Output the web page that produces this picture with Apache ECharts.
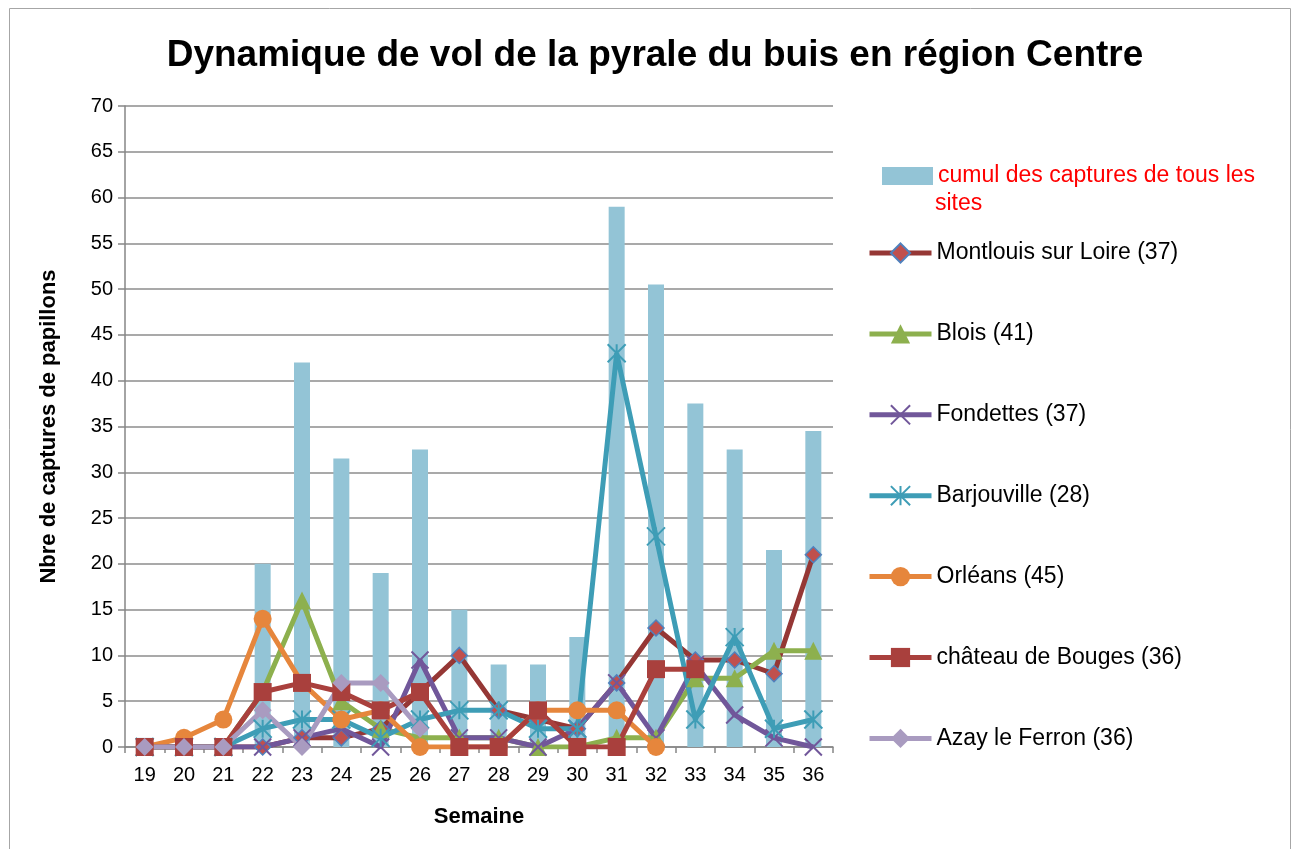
<!DOCTYPE html>
<html><head><meta charset="utf-8">
<script src="https://cdn.jsdelivr.net/npm/echarts@6/dist/echarts.min.js"></script>
<style>html,body{margin:0;padding:0;background:#fff}#c{width:1296px;height:849px}</style>
</head><body><div id="c"></div>
<script>
const weeks = ['19','20','21','22','23','24','25','26','27','28','29','30','31','32','33','34','35','36'];
const cumul = [1, 0, 0, 20, 42, 31.5, 19, 32.5, 15, 9, 9, 12, 59, 50.5, 37.5, 32.5, 21.5, 34.5];
const montlouis = [0, 0, 0, 0, 1, 1, 2, 6, 10, 4, 3, 2, 7, 13, 9.5, 9.5, 8, 21];
const blois = [0, 0, 0, 6, 16, 5, 2, 1, 1, 1, 0, 0, 1, 1, 7.5, 7.5, 10.5, 10.5];
const fondettes = [0, 0, 0, 0, 1, 2, 0, 9.5, 1, 1, 0, 2, 7, 1, 9, 3.5, 1, 0];
const barjouville = [0, 0, 0, 2, 3, 3, 1, 3, 4, 4, 2, 2, 43, 23, 3, 12, 2, 3];
const orleans = [0, 1, 3, 14, 7, 3, 4, 0, 0, 0, 4, 4, 4, 0, null, null, null, null];
const bouges = [0, 0, 0, 6, 7, 6, 4, 6, 0, 0, 4, 0, 0, 8.5, 8.5, null, null, null];
const azay = [0, 0, 0, 4, 0, 7, 7, 2, null, null, null, null, null, null, null, null, null, null];
const yTicks = [0, 5, 10, 15, 20, 25, 30, 35, 40, 45, 50, 55, 60, 65, 70];

const FONT = 'Liberation Sans';
const chart = echarts.init(document.getElementById('c'));

function lineSeries(name, data, lineColor, symbol, size, fill, border, bw) {
  return {
    name, type: 'line', data, symbol, symbolSize: size,
    connectNulls: false,
    lineStyle: { color: lineColor, width: 5 },
    itemStyle: { color: fill, borderColor: border, borderWidth: bw },
    emphasis: { disabled: true },
    z: 3
  };
}
const X_PATH = 'path://M0,0L10,10M10,0L0,10';
const STAR_PATH = 'path://M5,0L5,10M0,0L10,10M10,0L0,10';

chart.setOption({
  animation: false,
  textStyle: { fontFamily: FONT },
  title: {
    text: 'Dynamique de vol de la pyrale du buis en région Centre',
    left: 650, top: 32, textAlign: 'center',
    textStyle: { fontSize: 37, fontWeight: 'bold', color: '#000', fontFamily: FONT }
  },
  graphic: [
    { type: 'rect', shape: { x: 9.5, y: 8.5, width: 1281, height: 845 },
      style: { fill: 'none', stroke: '#A6A6A6', lineWidth: 1 }, silent: true, z: -10 },
    { type: 'text', left: 935, top: 192,
      style: { text: 'sites', fill: '#FF0000', fontSize: 23, fontFamily: FONT } }
  ],
  legend: [
    { data: [{ name: 'cumul des captures de tous les sites', textStyle: { color: '#FF0000' } }],
      orient: 'vertical', left: 877, top: 159, icon: 'rect',
      itemWidth: 51, itemHeight: 18, itemGap: 10,
      formatter: () => 'cumul des captures de tous les',
      textStyle: { fontSize: 23, lineHeight: 24, fontFamily: FONT }, selectedMode: false },
    { data: ['Montlouis sur Loire (37)', 'Blois (41)', 'Fondettes (37)', 'Barjouville (28)', 'Orléans (45)', 'château de Bouges (36)', 'Azay le Ferron (36)'],
      orient: 'vertical', left: 862, top: 236,
      itemWidth: 62, itemHeight: 24, itemGap: 56.9,
      lineStyle: { width: 5 },
      textStyle: { fontSize: 23, lineHeight: 24, color: '#000', fontFamily: FONT }, selectedMode: false }
  ],
  grid: { left: 125, right: 463, top: 106, bottom: 102 },
  xAxis: {
    type: 'category', data: weeks, boundaryGap: true,
    name: 'Semaine', nameLocation: 'middle', nameGap: 59,
    nameTextStyle: { fontSize: 22, fontWeight: 'bold', color: '#000', fontFamily: FONT },
    axisLine: { lineStyle: { color: '#868686', width: 1.5 } },
    axisTick: { show: true, alignWithLabel: false, interval: 0, length: 6, lineStyle: { color: '#868686', width: 1.5 } },
    axisLabel: { fontSize: 20, color: '#000', margin: 18, interval: 0, fontFamily: FONT }
  },
  yAxis: {
    type: 'value', min: yTicks[0], max: yTicks[yTicks.length - 1], interval: 5,
    name: 'Nbre de captures de papillons', nameLocation: 'middle', nameGap: 65, nameRotate: 90,
    nameTextStyle: { fontSize: 22, fontWeight: 'bold', color: '#000', fontFamily: FONT },
    axisLine: { show: true, lineStyle: { color: '#868686', width: 1.5 } },
    axisTick: { show: true, length: 7, lineStyle: { color: '#868686', width: 1.5 } },
    axisLabel: { fontSize: 20, color: '#000', margin: 12, fontFamily: FONT },
    splitLine: { show: true, lineStyle: { color: '#8C8C8C', width: 1.5 } }
  },
  series: [
    { name: 'cumul des captures de tous les sites', type: 'bar', data: cumul, barWidth: 16,
      itemStyle: { color: '#93C4D6' }, emphasis: { disabled: true }, z: 2 },
    lineSeries('Montlouis sur Loire (37)', montlouis, '#953735', 'diamond', 16, '#C0504D', '#4F81BD', 1.5),
    lineSeries('Blois (41)', blois, '#8DB04E', 'triangle', 18, '#8DB04E', '#8DB04E', 0),
    lineSeries('Fondettes (37)', fondettes, '#71579A', X_PATH, 17, '#71579A', '#71579A', 2),
    lineSeries('Barjouville (28)', barjouville, '#3E9DB6', STAR_PATH, 18, '#3E9DB6', '#3E9DB6', 2),
    lineSeries('Orléans (45)', orleans, '#E6863C', 'circle', 18, '#E6863C', '#E6863C', 0),
    lineSeries('château de Bouges (36)', bouges, '#A9403D', 'rect', 18, '#A9403D', '#A9403D', 0),
    lineSeries('Azay le Ferron (36)', azay, '#A99BC0', 'diamond', 18, '#A99BC0', '#A99BC0', 0)
  ]
});
</script></body></html>
